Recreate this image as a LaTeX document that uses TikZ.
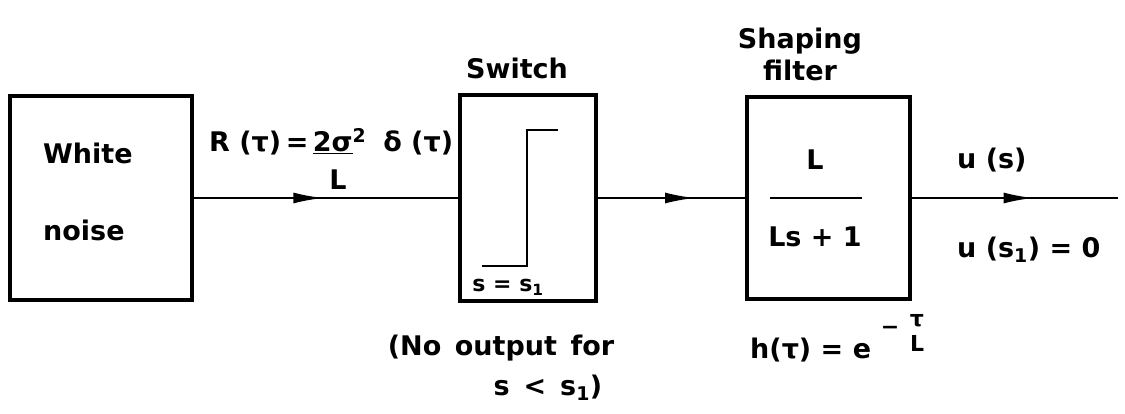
\documentclass[tikz,border=0pt]{standalone}
\usepackage{fontspec}
\setmainfont{DejaVu Sans}
\usetikzlibrary{decorations.markings,arrows.meta}
\begin{document}
\begin{tikzpicture}[x=1pt,y=-1pt,
  blk/.style={draw,line width=4pt,inner sep=0pt},
  lbl/.style={inner sep=0pt,font=\fontsize{27}{32}\selectfont\bfseries},
  sml/.style={inner sep=0pt,font=\fontsize{22}{24}\selectfont\bfseries},
  wire/.style={line width=2.2pt},
  midarrow/.style={postaction={decorate},decoration={markings,mark=at position #1 with {\arrow{Latex[length=30pt,width=11pt]}}}}
]
\useasboundingbox (0,0) rectangle (1125,414);
% blocks
\node[blk,minimum width=182pt,minimum height=203pt] (wn) at (101,198) {};
\node[blk,minimum width=136pt,minimum height=205pt] (sw) at (528,198) {};
\node[blk,minimum width=163pt,minimum height=201pt] (sf) at (828.5,198) {};
\coordinate (out) at (1118,198);
% connectors
\draw[wire,midarrow=0.49] (wn.east) -- (sw.west);
\draw[wire,midarrow=0.66] (sw.east) -- (sf.west);
\draw[wire,midarrow=0.59] (sf.east) -- (out);
% white noise text
\node[lbl,anchor=west] (t1) at (43,153) {White};
\node[lbl,anchor=west] (t2) at (43,230) {noise};
% R label
\node[lbl,anchor=west] (rl) at (209,142) {R (τ)\,=\,\underline{2σ}\textsuperscript{2}\; δ (τ)};
\node[lbl] (rL) at (338,180) {L};
% switch
\node[lbl] (swt) at (517,68) {Switch};
\coordinate (s1) at (482,266);
\coordinate (s2) at (527,266);
\coordinate (s3) at (527,130);
\coordinate (s4) at (558,130);
\draw[line width=2.8pt] (s1) -- (s2) -- (s3) -- (s4);
\node[sml] (ss) at (508,287) {s = s\textsubscript{1}};
\node[lbl] (no1) at (501,348) {(No\hspace{0.5em}output\hspace{0.5em}for};
\node[lbl] (no2) at (548,388) {s \,<\, s\textsubscript{1})};
% shaping filter
\node[lbl,align=center] (sft) at (800,54) {Shaping\\[0pt]filter};
\node[lbl] (fn) at (815,160) {L};
\coordinate (f1) at (770,198);
\coordinate (f2) at (862,198);
\draw[wire] (f1) -- (f2);
\node[lbl] (fd) at (815,237) {Ls + 1};
\node[lbl,anchor=west] (h) at (750,350) {h(τ) = e};
\node[sml] (hm) at (890,330) {−};
\node[sml] (ht) at (917,321) {τ};
\node[sml] (hL) at (917,343) {L};
% output
\node[lbl,anchor=west] (u1) at (957,160) {u (s)};
\node[lbl,anchor=west] (u2) at (957,250) {u (s\textsubscript{1}) = 0};
\end{tikzpicture}
\end{document}
